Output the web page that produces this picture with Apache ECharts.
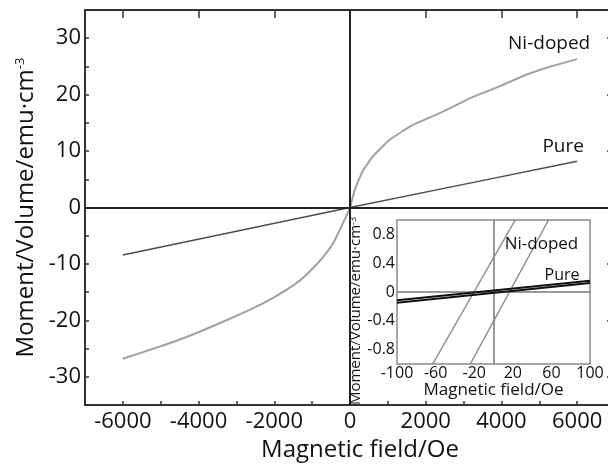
<!DOCTYPE html>
<html><head><meta charset="utf-8">
<script src="https://cdn.jsdelivr.net/npm/echarts@6/dist/echarts.min.js"></script>
<style>html,body{margin:0;padding:0;background:#fff}#c{width:608px;height:469px}</style>
</head><body><div id="c"></div>
<script>
// ---- Main panel data ----
const niField  = [-6000,-5000,-4150,-3100,-2300,-1700,-1300,-1000,-700,-450,-200,0,120,350,600,1050,1650,2400,3250,4000,4600,5300,6000];
const niMoment = [-26.8,-24.6,-22.5,-19.5,-17.0,-14.7,-12.8,-10.9,-8.7,-6.4,-3.0,0,3.0,6.6,9.0,12.0,14.6,16.8,19.6,21.6,23.4,25.0,26.3];
const pureField  = [-6000,-3000,0,3000,6000];
const pureMoment = [-8.4,-4.2,0,4.1,8.2];
const mainXTicks = [-6000,-4000,-2000,0,2000,4000,6000];
const mainYTicks = [-30,-20,-10,0,10,20,30];
// ---- Inset data ----
const insetNiAField  = [-63, 22.5];
const insetNiAMoment = [-1, 1];
const insetNiBField  = [-24, 57];
const insetNiBMoment = [-1, 1];
const insetPureAField  = [-100, 100];
const insetPureAMoment = [-0.15, 0.125];
const insetPureBField  = [-100, 100];
const insetPureBMoment = [-0.115, 0.155];
const insetXTicks = [-100,-60,-20,20,60,100];
const insetYTicks = [-0.8,-0.4,0,0.4,0.8];

const FONT = 'Open Sans';
const zip = (a, b) => a.map((v, i) => [v, b[i]]);
function withEndLabel(pts, text, label) {
  return pts.map((p, i) => i === pts.length - 1
    ? { value: p, label: Object.assign({ show: true, formatter: text, fontFamily: FONT, color: '#111' }, label) }
    : p);
}
const plain = v => String(Math.round(v * 10) / 10);

const chart = echarts.init(document.getElementById('c'), null, { renderer: 'canvas' });
const yName = '{m|Moment/Volume/emu·cm}{s|-3}';
const lineBase = { type: 'line', symbol: 'circle', symbolSize: 1, showSymbol: true,
  itemStyle: { color: 'rgba(0,0,0,0)', borderWidth: 0 }, label: { show: false } };
chart.setOption({
  animation: false,
  backgroundColor: '#fff',
  textStyle: { fontFamily: FONT },
  grid: [
    { left: 85, top: 10, right: -7, bottom: 64, show: true, borderColor: '#333', borderWidth: 2, outerBoundsMode: 'none', containLabel: false },
    { left: 397, top: 220, width: 193, height: 144, show: true, backgroundColor: '#fff', borderColor: '#8a8a8a', borderWidth: 1.5, outerBoundsMode: 'none', containLabel: false, z: 5 }
  ],
  xAxis: [
    { gridIndex: 0, type: 'value', min: -7000, max: 7000, interval: 1000,
      axisLine: { show: false, onZero: false }, splitLine: { show: false },
      axisTick: { inside: true, length: 4, lineStyle: { color: '#333', width: 1.5 } },
      axisLabel: { customValues: mainXTicks, fontSize: 22, color: '#111', margin: 6, fontFamily: FONT, formatter: plain },
      name: 'Magnetic field/Oe', nameLocation: 'middle', nameGap: 33,
      nameTextStyle: { fontSize: 24, color: '#111', fontFamily: FONT, padding: [0, 0, 0, 20] } },
    { gridIndex: 0, type: 'value', min: -7000, max: 7000, interval: 1000,
      axisLine: { show: false, onZero: false }, splitLine: { show: false },
      axisTick: { inside: true, length: 8, customValues: mainXTicks, lineStyle: { color: '#333', width: 1.5 } },
      axisLabel: { show: false } },
    { gridIndex: 1, type: 'value', min: -100, max: 100, interval: 10,
      axisLine: { show: false, onZero: false }, splitLine: { show: false },
      axisTick: { inside: true, length: 3, lineStyle: { color: '#888' } },
      axisLabel: { customValues: insetXTicks, fontSize: 16, color: '#111', margin: 1, fontFamily: FONT, formatter: plain },
      name: 'Magnetic field/Oe', nameLocation: 'middle', nameGap: 18,
      nameTextStyle: { fontSize: 17, color: '#111', fontFamily: FONT } }
  ],
  yAxis: [
    { gridIndex: 0, type: 'value', min: -35, max: 35, interval: 5,
      axisLine: { show: false, onZero: false }, splitLine: { show: false },
      axisTick: { inside: true, length: 4, lineStyle: { color: '#333', width: 1.5 } },
      axisLabel: { customValues: mainYTicks, fontSize: 22, color: '#111', margin: 4, fontFamily: FONT, formatter: plain },
      name: yName, nameLocation: 'middle', nameGap: 47,
      nameTextStyle: { color: '#111', fontFamily: FONT,
        rich: { m: { fontSize: 24, fontFamily: FONT, color: '#111' },
                s: { fontSize: 13, fontFamily: FONT, color: '#111', verticalAlign: 'top', padding: [0, 0, 10, 0] } } } },
    { gridIndex: 0, type: 'value', min: -35, max: 35, interval: 5,
      axisLine: { show: false, onZero: false }, splitLine: { show: false },
      axisTick: { inside: true, length: 8, customValues: mainYTicks, lineStyle: { color: '#333', width: 1.5 } },
      axisLabel: { show: false } },
    { gridIndex: 1, type: 'value', min: -1, max: 1, interval: 0.2,
      axisLine: { show: false, onZero: false }, splitLine: { show: false },
      axisTick: { inside: true, length: 3, lineStyle: { color: '#888' } },
      axisLabel: { customValues: insetYTicks, fontSize: 16, color: '#111', margin: 2, fontFamily: FONT, formatter: plain },
      name: yName, nameLocation: 'middle', nameGap: 30,
      nameTextStyle: { color: '#111', fontFamily: FONT, padding: [0, 38, 0, 0],
        rich: { m: { fontSize: 15, fontFamily: FONT, color: '#111' },
                s: { fontSize: 9, fontFamily: FONT, color: '#111', verticalAlign: 'top', padding: [0, 0, 6, 0] } } } }
  ],
  series: [
    Object.assign({}, lineBase, { name: 'Ni-doped', xAxisIndex: 0, yAxisIndex: 0, smooth: 0.15,
      lineStyle: { color: '#a0a0a0', width: 2 },
      data: withEndLabel(zip(niField, niMoment), 'Ni-doped', { position: 'top', distance: 5, offset: [-28, 0], fontSize: 19 }) }),
    Object.assign({}, lineBase, { name: 'Pure', xAxisIndex: 0, yAxisIndex: 0,
      lineStyle: { color: '#4d4d4d', width: 1.5 },
      data: withEndLabel(zip(pureField, pureMoment), 'Pure', { position: 'top', distance: 5, offset: [-14, 0], fontSize: 19 }),
      markLine: { silent: true, symbol: 'none', label: { show: false },
        lineStyle: { color: '#222', width: 2, type: 'solid' },
        data: [{ xAxis: 0 }, { yAxis: 0 }] } }),
    Object.assign({}, lineBase, { xAxisIndex: 2, yAxisIndex: 2, z: 6,
      lineStyle: { color: '#8c8c8c', width: 1.5 },
      data: zip(insetNiAField, insetNiAMoment),
      markLine: { silent: true, symbol: 'none', label: { show: false },
        lineStyle: { color: '#777', width: 1.5, type: 'solid' },
        data: [{ xAxis: 0 }, { yAxis: 0 }] } }),
    Object.assign({}, lineBase, { xAxisIndex: 2, yAxisIndex: 2, z: 6,
      lineStyle: { color: '#8c8c8c', width: 1.5 },
      data: withEndLabel(zip(insetNiBField, insetNiBMoment), 'Ni-doped', { position: 'bottom', distance: 5, offset: [-7, 10], fontSize: 17 }) }),
    Object.assign({}, lineBase, { xAxisIndex: 2, yAxisIndex: 2, z: 7,
      lineStyle: { color: '#111', width: 2 },
      data: zip(insetPureAField, insetPureAMoment) }),
    Object.assign({}, lineBase, { xAxisIndex: 2, yAxisIndex: 2, z: 7,
      lineStyle: { color: '#111', width: 2 },
      data: withEndLabel(zip(insetPureBField, insetPureBMoment), 'Pure', { position: 'top', distance: 0, offset: [-28, 3], fontSize: 16 }) })
  ]
});
</script>
</body></html>
